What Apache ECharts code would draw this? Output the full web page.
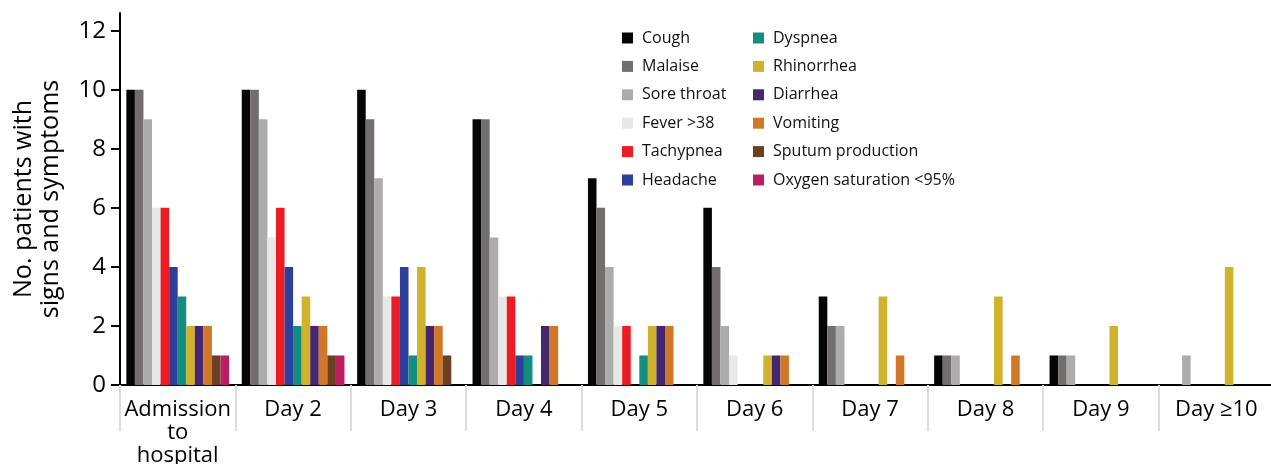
<!DOCTYPE html>
<html><head><meta charset="utf-8">
<script src="https://cdn.jsdelivr.net/npm/echarts@6/dist/echarts.min.js"></script>
<style>html,body{margin:0;padding:0;background:#fff}#c{width:1271px;height:464px}</style>
</head><body><div id="c"></div>
<script>
const categories = ['Admission\nto\nhospital','Day 2','Day 3','Day 4','Day 5','Day 6','Day 7','Day 8','Day 9','Day \u226510'];
const yTicks = [0,2,4,6,8,10,12];
const seriesNames = ['Cough','Malaise','Sore throat','Fever >38','Tachypnea','Headache','Dyspnea','Rhinorrhea','Diarrhea','Vomiting','Sputum production','Oxygen saturation <95%'];
const cough      = [10,10,10,9,7,6,3,1,1,0];
const malaise    = [10,10,9,9,6,4,2,1,1,0];
const soreThroat = [9,9,7,5,4,2,2,1,1,1];
const fever      = [6,5,3,3,2,1,0,0,0,0];
const tachypnea  = [6,6,3,3,2,0,0,0,0,0];
const headache   = [4,4,4,1,0,0,0,0,0,0];
const dyspnea    = [3,2,1,1,1,0,0,0,0,0];
const rhinorrhea = [2,3,4,0,2,1,3,3,2,4];
const diarrhea   = [2,2,2,2,2,1,0,0,0,0];
const vomiting   = [2,2,2,2,2,1,1,1,0,0];
const sputum     = [1,1,1,0,0,0,0,0,0,0];
const oxygen     = [1,1,0,0,0,0,0,0,0,0];
const seriesValues = [cough,malaise,soreThroat,fever,tachypnea,headache,dyspnea,rhinorrhea,diarrhea,vomiting,sputum,oxygen];
const colors = ['#060606','#726e6d','#adacac','#e8e8e8','#ec1c24','#2e3f9b','#128d7e','#d1b22c','#46266f','#d07728','#6a3f24','#bb1f61'];

const FONT = 'Open Sans';
const chart = echarts.init(document.getElementById('c'), null, {renderer:'canvas'});
const legendCommon = {
  orient:'vertical', top:28, padding:0, icon:'rect', itemWidth:11, itemHeight:11, itemGap:8.4,
  textStyle:{fontFamily:FONT, fontSize:16, color:'#111', lineHeight:20, padding:[0,0,0,4]},
  selectedMode:false
};
chart.setOption({
  animation:false,
  textStyle:{fontFamily:FONT},
  legend:[
    Object.assign({left:622, data:seriesNames.slice(0,6)}, legendCommon),
    Object.assign({left:753, data:seriesNames.slice(6)}, legendCommon)
  ],
  grid:{left:120, top:13, width:1154, bottom:79, containLabel:false, outerBoundsMode:'none'},
  xAxis:{
    type:'category', data:categories,
    axisLine:{lineStyle:{color:'#000', width:2}},
    axisTick:{show:true, length:46, lineStyle:{color:'#dddddd', width:2}},
    axisLabel:{fontFamily:FONT, fontSize:22, color:'#000', margin:13, lineHeight:23, interval:0}
  },
  yAxis:{
    type:'value', min:0, max:12.6,
    name:'No. patients with\nsigns and symptoms', nameLocation:'middle', nameGap:56,
    nameTextStyle:{fontFamily:FONT, fontSize:25, color:'#000', lineHeight:27},
    splitLine:{show:false},
    axisLine:{show:true, lineStyle:{color:'#000', width:2}},
    axisTick:{show:true, length:9, customValues:yTicks, lineStyle:{color:'#000', width:2}},
    axisLabel:{fontFamily:FONT, fontSize:24, color:'#000', margin:14, customValues:yTicks}
  },
  series: seriesNames.map((n,i)=>({
    name:n, type:'bar', data:seriesValues[i], barGap:'0%', barCategoryGap:'11%',
    itemStyle:{color:colors[i]}
  }))
});
</script></body></html>
